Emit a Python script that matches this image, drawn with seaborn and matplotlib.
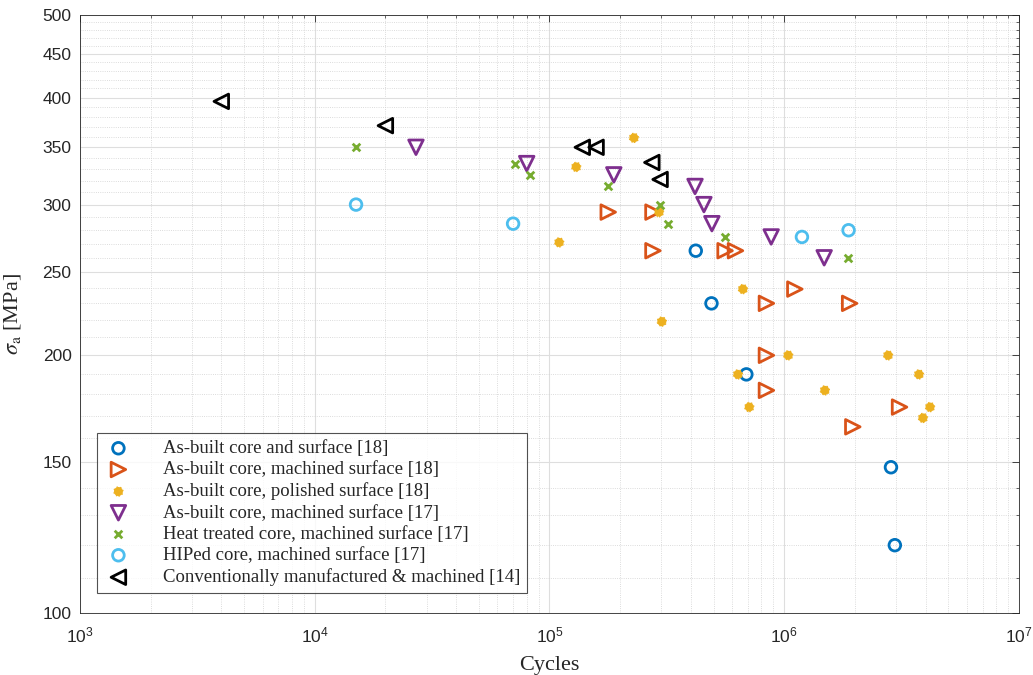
import numpy as np
import pandas as pd
import matplotlib
matplotlib.use("Agg")
import matplotlib.pyplot as plt
import seaborn as sns
from matplotlib.ticker import FixedLocator, NullFormatter, LogLocator

# data (cycles, stress amplitude in MPa)
asbuilt_x = [4.2e5, 4.9e5, 6.9e5, 2.85e6, 2.96e6]
asbuilt_y = [265, 230, 190, 148, 120]

machined18_x = [1.78e5, 2.76e5, 2.76e5, 5.6e5, 6.2e5, 8.4e5, 1.11e6, 1.9e6, 8.4e5, 8.4e5, 3.1e6, 1.96e6]
machined18_y = [294, 294, 265, 265, 265, 230, 239, 230, 200, 182, 174, 165]

polished18_x = [2.29e5, 1.3e5, 1.1e5, 2.93e5, 6.67e5, 3.01e5, 1.04e6, 6.35e5, 1.49e6,
                7.1e5, 2.77e6, 3.75e6, 4.18e6, 3.9e6]
polished18_y = [359, 332, 271, 294, 239, 219, 200, 190, 182, 174, 200, 190, 174, 169]

machined17_x = [2.7e4, 8.0e4, 1.88e5, 4.17e5, 4.55e5, 4.92e5, 8.8e5, 1.48e6]
machined17_y = [350, 335, 325, 315, 300, 285, 275, 260]

heat17_x = [1.5e4, 7.1e4, 8.3e4, 1.78e5, 2.96e5, 3.2e5, 5.6e5, 1.87e6]
heat17_y = [350, 335, 325, 315, 300, 285, 275, 260]

hip17_x = [1.5e4, 7.0e4, 1.19e6, 1.88e6]
hip17_y = [300, 285, 275, 280]

conv14_x = [4.0e3, 2.0e4, 1.38e5, 1.58e5, 2.73e5, 2.96e5]
conv14_y = [396, 371, 350, 350, 336, 321]

labels = ["As-built core and surface [18]",
          "As-built core, machined surface [18]",
          "As-built core, polished surface [18]",
          "As-built core, machined surface [17]",
          "Heat treated core, machined surface [17]",
          "HIPed core, machined surface [17]",
          "Conventionally manufactured & machined [14]"]

sns.set_style("white")
plt.rcParams['font.family'] = ['Liberation Serif', 'DejaVu Serif']
plt.rcParams['mathtext.fontset'] = 'stix'

fig = plt.figure(figsize=(10.33, 6.75), dpi=100)
ax = fig.add_axes([0.0774, 0.0919, 0.909, 0.8863])

series = [
    (asbuilt_x, asbuilt_y, 'o', '#0072BD', 70, True),
    (machined18_x, machined18_y, '>', '#D95319', 110, True),
    (polished18_x, polished18_y, 'o', '#EDB120', 42, False),
    (machined17_x, machined17_y, 'v', '#7E2F8E', 110, True),
    (heat17_x, heat17_y, 'x', '#77AC30', 30, None),
    (hip17_x, hip17_y, 'o', '#4DBEEE', 70, True),
    (conv14_x, conv14_y, '<', '#000000', 110, True),
]

for (xs, ys, m, c, s, hollow), lab in zip(series, labels):
    df = pd.DataFrame({"Cycles": xs, "Stress": ys})
    if hollow is None:
        sns.scatterplot(data=df, x="Cycles", y="Stress", ax=ax, marker=m, s=s,
                        color=c, linewidth=2, edgecolor=None, label=lab, zorder=3)
    elif hollow:
        sns.scatterplot(data=df, x="Cycles", y="Stress", ax=ax, marker=m, s=s,
                        facecolor='none', edgecolor=c, linewidth=2, label=lab, zorder=3)
    else:
        sns.scatterplot(data=df, x="Cycles", y="Stress", ax=ax, marker=m, s=s,
                        facecolor=c, edgecolor=c, linewidth=1, linestyle=':',
                        label=lab, zorder=3)

ax.set_xscale('log')
ax.set_yscale('log')
ax.set_xlim(1e3, 1e7)
ax.set_ylim(100, 500)

yt = [100, 150, 200, 250, 300, 350, 400, 450, 500]
ax.yaxis.set_major_locator(FixedLocator(yt))
ax.set_yticklabels([str(v) for v in yt])
ax.yaxis.set_minor_locator(FixedLocator([v for v in range(110, 500, 10) if v not in yt]))
ax.yaxis.set_minor_formatter(NullFormatter())
ax.xaxis.set_major_locator(LogLocator(base=10, numticks=10))
ax.xaxis.set_minor_locator(LogLocator(base=10, subs=np.arange(2, 10), numticks=20))
ax.xaxis.set_minor_formatter(NullFormatter())

ax.grid(which='major', color='#dedede', linewidth=0.8, linestyle='-', zorder=0)
ax.grid(which='minor', color='#d0d0d0', linewidth=0.6, linestyle=':', zorder=0)
ax.set_axisbelow(True)

ax.tick_params(which='both', direction='in', top=True, right=True, colors='#262626')
ax.tick_params(which='major', length=5, width=0.6, labelsize=12.5)
ax.tick_params(axis='x', which='major', pad=9)
ax.tick_params(axis='y', which='major', pad=6)
ax.tick_params(which='minor', length=2.5, width=0.5)
for lab in ax.get_xticklabels() + ax.get_yticklabels():
    lab.set_family(['Liberation Sans', 'DejaVu Sans'])
for sp in ax.spines.values():
    sp.set_edgecolor('#262626')
    sp.set_linewidth(0.6)

ax.set_xlabel('Cycles', fontsize=16, color='#262626', labelpad=8)
ax.set_ylabel(r'$\sigma_{\rm a}$ [MPa]', fontsize=16, color='#262626', labelpad=14)

leg = ax.legend(loc='upper left', bbox_to_anchor=(0.018, 0.30), fontsize=13.5,
                frameon=True, fancybox=False, edgecolor='#262626',
                labelspacing=0.22, handletextpad=1.6, borderpad=0.35,
                handlelength=1.6, borderaxespad=0)
leg.get_frame().set_linewidth(0.8)

fig.savefig('out.png', dpi=100)
